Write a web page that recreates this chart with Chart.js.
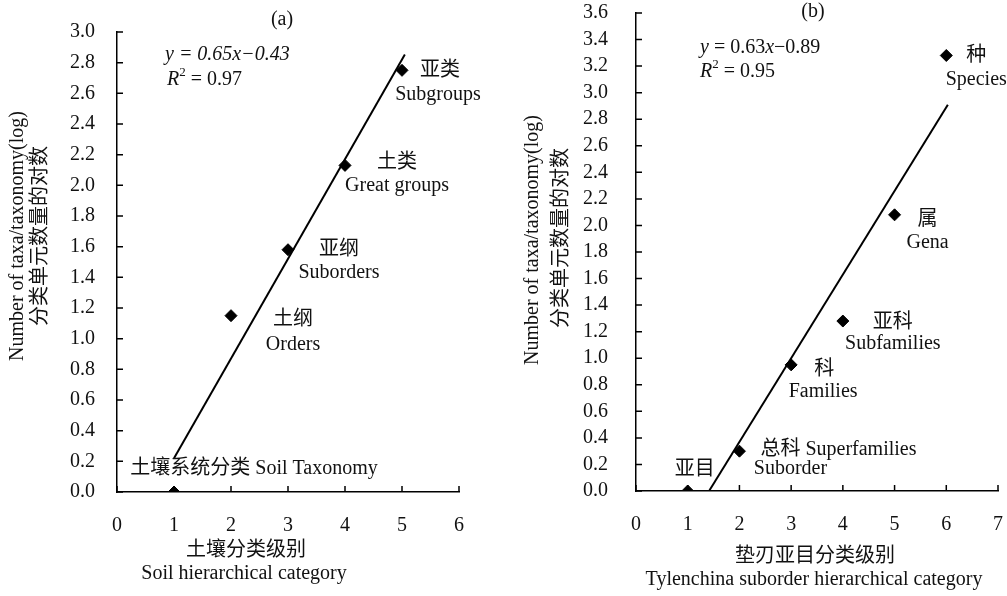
<!DOCTYPE html>
<html>
<head>
<meta charset="utf-8">
<script src="https://cdn.jsdelivr.net/npm/chart.js@4.4.0/dist/chart.umd.min.js"></script>
<style>
  body { margin: 0; background: #fff; }
  #wrapA { position: absolute; left: 0; top: 0; width: 490px; height: 596px; }
  #wrapB { position: absolute; left: 490px; top: 0; width: 517px; height: 596px; }
</style>
</head>
<body>
<div id="wrapA"><canvas id="chartA"></canvas></div>
<div id="wrapB"><canvas id="chartB"></canvas></div>
<script>
// (a) soil taxonomy
const soilLevels = [1, 2, 3, 4, 5];
const soilLogTaxa = [0, 1.15, 1.58, 2.13, 2.75];
const soilFit = { slope: 0.65, intercept: -0.43, from: 1, to: 5.05 };

// (b) Tylenchina
const nemaLevels = [1, 2, 3, 4, 5, 6];
const nemaLogTaxa = [0, 0.30, 0.95, 1.28, 2.08, 3.28];
const nemaFit = { slope: 0.63, intercept: -0.89, from: 1.413, to: 6.03 };

const FONT = '"Liberation Serif", "Noto Sans CJK SC", serif';

function fitLine(f) {
  return [f.from, f.to].map(x => ({ x: x, y: f.slope * x + f.intercept }));
}

// draws inward pointing ticks like the original figure
const inwardTicks = {
  id: 'inwardTicks',
  afterDraw(chart) {
    const { ctx, scales: { x, y } } = chart;
    ctx.save();
    ctx.strokeStyle = '#000';
    ctx.lineWidth = 1.5;
    ctx.beginPath();
    x.ticks.forEach((t, i) => {
      const px = x.getPixelForTick(i);
      ctx.moveTo(px, x.top);
      ctx.lineTo(px, x.top - 6);
    });
    y.ticks.forEach((t, i) => {
      const py = y.getPixelForTick(i);
      ctx.moveTo(y.right, py);
      ctx.lineTo(y.right + 6, py);
    });
    ctx.stroke();
    ctx.restore();
  }
};

function drawParts(ctx, x, y, parts) {
  let cx = x;
  parts.forEach(p => {
    const size = p.sup ? 13 : 20;
    ctx.font = (p.italic ? 'italic ' : '') + size + 'px ' + FONT;
    ctx.fillText(p.t, cx, p.sup ? y - 7 : y);
    cx += ctx.measureText(p.t).width;
  });
}

const panelText = {
  id: 'panelText',
  afterDraw(chart, args, o) {
    const ctx = chart.ctx;
    const xs = chart.scales.x, ys = chart.scales.y;
    const ds = chart.data.datasets[0].data;
    ctx.save();
    ctx.fillStyle = '#111';
    ctx.textBaseline = 'middle';
    ctx.textAlign = 'center';
    ctx.font = '20px ' + FONT;
    // point labels
    o.labels.forEach(l => {
      const px = xs.getPixelForValue(ds[l.i].x);
      const py = ys.getPixelForValue(ds[l.i].y);
      ctx.fillText(l.text, px + l.dx, py + l.dy);
    });
    // panel tag
    ctx.fillText(o.tag.text, o.tag.x, o.tag.y);
    // x title
    o.xTitle.forEach(l => ctx.fillText(l.text, l.x, l.y));
    // y title (rotated)
    o.yTitle.forEach(l => {
      ctx.save();
      ctx.translate(l.x, l.y);
      ctx.rotate(-Math.PI / 2);
      ctx.fillText(l.text, 0, 0);
      ctx.restore();
    });
    // equation
    ctx.textAlign = 'left';
    drawParts(ctx, o.eq.x, o.eq.y, o.eq.parts);
    drawParts(ctx, o.r2.x, o.r2.y, o.r2.parts);
    ctx.restore();
  }
};

function makeChart(id, levels, values, fit, cfg) {
  const tickFont = { family: FONT, size: 20 };
  return new Chart(document.getElementById(id), {
    type: 'scatter',
    data: {
      datasets: [
        {
          data: levels.map((v, i) => ({ x: v, y: values[i] })),
          pointStyle: 'rectRot',
          pointRadius: 6,
          backgroundColor: '#000',
          borderColor: '#000'
        },
        {
          data: fitLine(fit),
          showLine: true,
          pointRadius: 0,
          borderColor: '#000',
          borderWidth: 2
        }
      ]
    },
    options: {
      responsive: true,
      maintainAspectRatio: false,
      animation: false,
      layout: { padding: { left: 0, right: cfg.padRight, top: cfg.padTop, bottom: 0 } },
      plugins: {
        legend: { display: false },
        tooltip: { enabled: false },
        panelText: cfg.text
      },
      scales: {
        x: {
          type: 'linear', min: 0, max: cfg.xMax,
          afterFit(s) { s.height = cfg.xHeight; s.paddingLeft = 0; s.paddingRight = 0; },
          ticks: { stepSize: 1, padding: 14, font: tickFont, color: '#111', maxRotation: 0, autoSkip: false },
          grid: { display: false },
          border: { color: '#000', width: 1.5 }
        },
        y: {
          type: 'linear', min: 0, max: cfg.yMax,
          afterFit(s) { s.width = cfg.yWidth; s.paddingTop = 0; s.paddingBottom = 0; },
          ticks: { stepSize: 0.2, padding: cfg.yPad, font: tickFont, color: '#111', autoSkip: false,
                   callback: v => v.toFixed(1) },
          grid: { display: false },
          border: { color: '#000', width: 1.5 }
        }
      }
    },
    plugins: [inwardTicks, panelText]
  });
}

makeChart('chartA', soilLevels, soilLogTaxa, soilFit, {
  padRight: 31, padTop: 32, xHeight: 104, yWidth: 117, yPad: 14, xMax: 6, yMax: 3.0,
  text: {
    tag: { text: '(a)', x: 282, y: 20 },
    eq: { x: 165, y: 55, parts: [
      { t: 'y', italic: true }, { t: ' = 0.65', italic: true }, { t: 'x', italic: true }, { t: '−0.43', italic: true }] },
    r2: { x: 167, y: 80, parts: [
      { t: 'R', italic: true }, { t: '2', sup: true }, { t: ' = 0.97' }] },
    labels: [
      { i: 4, text: '亚类', dx: 38, dy: 0 },
      { i: 4, text: 'Subgroups', dx: 36, dy: 24 },
      { i: 3, text: '土类', dx: 52, dy: -3 },
      { i: 3, text: 'Great groups', dx: 52, dy: 20 },
      { i: 2, text: '亚纲', dx: 51, dy: 0 },
      { i: 2, text: 'Suborders', dx: 51, dy: 23 },
      { i: 1, text: '土纲', dx: 62, dy: 4 },
      { i: 1, text: 'Orders', dx: 62, dy: 29 },
      { i: 0, text: '土壤系统分类 Soil Taxonomy', dx: 80, dy: -23 }
    ],
    xTitle: [
      { text: '土壤分类级别', x: 246, y: 551 },
      { text: 'Soil hierarchical category', x: 244, y: 574 }
    ],
    yTitle: [
      { text: 'Number of taxa/taxonomy(log)', x: 18, y: 236 },
      { text: '分类单元数量的对数', x: 41, y: 236 }
    ]
  }
});

makeChart('chartB', nemaLevels, nemaLogTaxa, nemaFit, {
  padRight: 9, padTop: 13, xHeight: 105, yWidth: 146, yPad: 20, xMax: 7, yMax: 3.6,
  text: {
    tag: { text: '(b)', x: 323, y: 12 },
    eq: { x: 210, y: 48, parts: [
      { t: 'y', italic: true }, { t: ' = 0.63' }, { t: 'x', italic: true }, { t: '−0.89' }] },
    r2: { x: 210, y: 72, parts: [
      { t: 'R', italic: true }, { t: '2', sup: true }, { t: ' = 0.95' }] },
    labels: [
      { i: 5, text: '种', dx: 30, dy: 0 },
      { i: 5, text: 'Species', dx: 30, dy: 24 },
      { i: 4, text: '属', dx: 33, dy: 5 },
      { i: 4, text: 'Gena', dx: 33, dy: 28 },
      { i: 3, text: '亚科', dx: 50, dy: 2 },
      { i: 3, text: 'Subfamilies', dx: 50, dy: 23 },
      { i: 2, text: '科', dx: 33, dy: 5 },
      { i: 2, text: 'Families', dx: 32, dy: 27 },
      { i: 1, text: '总科 Superfamilies', dx: 99, dy: -1 },
      { i: 1, text: 'Suborder', dx: 51, dy: 18 },
      { i: 0, text: '亚目', dx: 7, dy: -21 }
    ],
    xTitle: [
      { text: '垫刃亚目分类级别', x: 325, y: 557 },
      { text: 'Tylenchina suborder hierarchical category', x: 324, y: 580 }
    ],
    yTitle: [
      { text: 'Number of taxa/taxonomy(log)', x: 43, y: 240 },
      { text: '分类单元数量的对数', x: 72, y: 238 }
    ]
  }
});
</script>
</body>
</html>
